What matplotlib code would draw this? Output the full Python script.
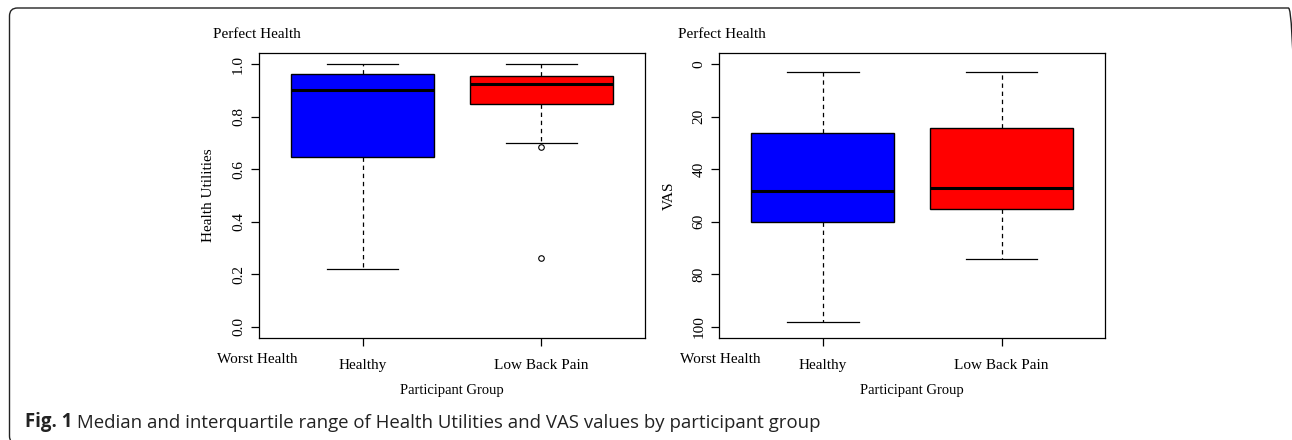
import matplotlib
matplotlib.use("Agg")
import matplotlib.pyplot as plt
from matplotlib.patches import FancyBboxPatch
from matplotlib.transforms import IdentityTransform

# data
groups = ["Healthy", "Low Back Pain"]
box_colors = ["#0000ff", "#ff0000"]

hu_q1 = [0.645, 0.850]
hu_med = [0.902, 0.926]
hu_q3 = [0.962, 0.955]
hu_lo = [0.220, 0.700]
hu_hi = [1.000, 1.000]
hu_out = [[], [0.683, 0.262]]

vas_q1 = [60.2, 55.2]
vas_med = [48.2, 47.3]
vas_q3 = [26.2, 24.2]
vas_lo = [98.3, 74.3]
vas_hi = [3.0, 3.0]
vas_out = [[], []]

hu_ticks = [0.0, 0.2, 0.4, 0.6, 0.8, 1.0]
vas_ticks = [0, 20, 40, 60, 80, 100]

serif = "Liberation Serif"
plt.rcParams["font.family"] = serif

fig = plt.figure(figsize=(12.92, 4.40), dpi=100)
ax1 = fig.add_axes([0.2005, 0.2318, 0.2987, 0.6477])
ax2 = fig.add_axes([0.5567, 0.2318, 0.2987, 0.6477])


def draw(ax, q1, med, q3, lo, hi, out, ylabel, ticks):
    stats = []
    for i in range(len(groups)):
        stats.append(dict(q1=q1[i], med=med[i], q3=q3[i], whislo=lo[i],
                          whishi=hi[i], fliers=out[i], label=groups[i]))
    res = ax.bxp(stats, positions=[1, 2], widths=0.8, capwidths=0.4,
                 patch_artist=True, showfliers=True,
                 boxprops=dict(edgecolor="black", linewidth=1.0),
                 medianprops=dict(color="black", linewidth=2.2),
                 whiskerprops=dict(color="black", linewidth=0.9, linestyle=(0, (3.5, 3))),
                 capprops=dict(color="black", linewidth=0.9),
                 flierprops=dict(marker="o", markersize=4, markerfacecolor="white",
                                 markeredgecolor="black", markeredgewidth=0.8))
    for patch, c in zip(res["boxes"], box_colors):
        patch.set_facecolor(c)
    ax.set_xlim(0.42, 2.58)
    ax.set_yticks(ticks)
    ax.set_yticklabels([str(t) for t in ticks], rotation=90, va="center")
    ax.tick_params(axis="both", direction="out", length=6, width=0.9,
                   labelsize=11, pad=4)
    ax.tick_params(axis="x", pad=9)
    for s in ax.spines.values():
        s.set_linewidth(0.9)
    ax.set_ylabel(ylabel, fontsize=11, labelpad=12)
    ax.set_xlabel("Participant Group", fontsize=10.5, labelpad=9)


draw(ax1, hu_q1, hu_med, hu_q3, hu_lo, hu_hi, hu_out, "Health Utilities", hu_ticks)
ax1.set_ylim(-0.043, 1.043)
draw(ax2, vas_q1, vas_med, vas_q3, vas_lo, vas_hi, vas_out, "VAS", vas_ticks)
ax2.set_ylim(104.3, -4.3)

W, H = 1292.0, 440.0
for x0 in (212.7, 678.0):
    fig.text(x0 / W, 1 - 38 / H, "Perfect Health", fontsize=11, va="baseline", ha="left")
for x0 in (216.7, 680.0):
    fig.text(x0 / W, 1 - 363 / H, "Worst Health", fontsize=11, va="baseline", ha="left")

# caption
t1 = fig.text(25 / W, 1 - 427 / H, "Fig. 1", fontsize=13.4, fontweight="bold",
              family="Open Sans", va="baseline", color="#222222")
ax1.annotate(" Median and interquartile range of Health Utilities and VAS values by participant group",
             xy=(1, 0), xycoords=t1, va="bottom", ha="left", fontsize=13.4,
             family="Open Sans", color="#222222", annotation_clip=False)

# frame, only top and left edges fall inside the picture
frame = FancyBboxPatch((9.5, -4.0), 1287, 436, boxstyle="round,pad=0,rounding_size=8",
                       transform=IdentityTransform(), fill=False,
                       edgecolor="#222222", linewidth=1.0)
fig.patches.append(frame)

fig.savefig("out.png", dpi=100)
